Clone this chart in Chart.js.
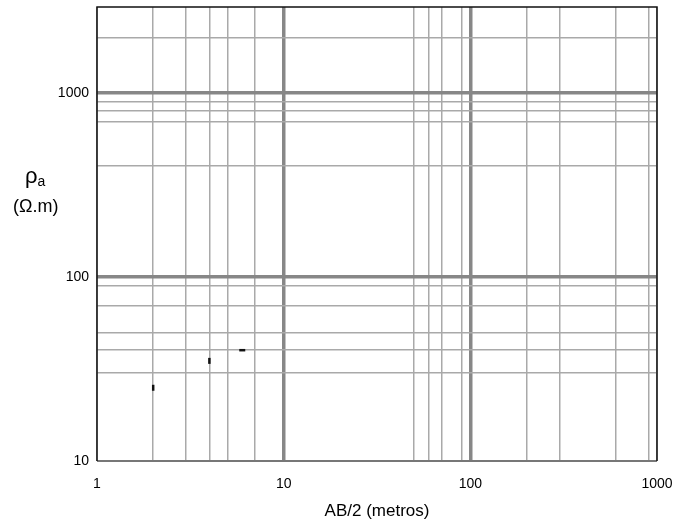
<!DOCTYPE html>
<html>
<head>
<meta charset="utf-8">
<script src="https://cdn.jsdelivr.net/npm/chart.js@4.4.1/dist/chart.umd.min.js"></script>
<style>
  html, body { margin: 0; padding: 0; background: #fff; }
  #wrap { position: relative; width: 677px; height: 524px; }
  .lbl { position: absolute; font-family: "Liberation Sans", Arial, sans-serif; color: #000; line-height: 1; white-space: nowrap; }
  #rhoLbl { left: 25px; top: 165px; font-size: 22px; }
  #rhoLbl sub { font-size: 14px; vertical-align: -3px; }
  #unitLbl { left: 13px; top: 197px; font-size: 18px; }
</style>
</head>
<body>
<div id="wrap">
  <canvas id="chart" width="677" height="524"></canvas>
  <div class="lbl" id="rhoLbl">ρ<sub>a</sub></div>
  <div class="lbl" id="unitLbl">(Ω.m)</div>
</div>
<script>
// grid values (irregular, as in the reference sheet)
const xGrid = [1, 2, 3, 4, 5, 7, 10, 50, 60, 70, 90, 100, 200, 300, 600, 900, 1000];
const yGrid = [10, 30, 40, 50, 70, 90, 100, 400, 700, 800, 900, 1000, 2000];
const xLabels = [1, 10, 100, 1000];
const yLabels = [10, 100, 1000];
const thickX = [10, 100];
const thickY = [100, 1000];

// measured points
const abHalf = [2, 4, 6];
const rhoA = [25, 35, 40];

const thinColor = '#a9a9a9';
const thickColor = '#878787';
const tickFont = { family: '"Liberation Sans", Arial, sans-serif', size: 14 };

// frame around the plot area
const framePlugin = {
    id: 'frame',
    afterDraw(chart) {
        const { ctx, chartArea: a } = chart;
        ctx.save();
        ctx.lineWidth = 2;
        ctx.strokeStyle = '#777';
        ctx.beginPath();
        ctx.moveTo(a.left, a.bottom);
        ctx.lineTo(a.right, a.bottom);
        ctx.stroke();
        ctx.lineWidth = 1.5;
        ctx.strokeStyle = '#111';
        ctx.beginPath();
        ctx.moveTo(a.left, a.bottom);
        ctx.lineTo(a.left, a.top);
        ctx.lineTo(a.right, a.top);
        ctx.lineTo(a.right, a.bottom);
        ctx.stroke();
        ctx.restore();
    }
};

const ctx = document.getElementById('chart').getContext('2d');
new Chart(ctx, {
    type: 'scatter',
    data: {
        datasets: [{
            data: abHalf.map((x, i) => ({ x: x, y: rhoA[i] })),
            pointStyle: 'line',
            rotation: [90, 90, 0],
            radius: 3,
            borderWidth: 2.5,
            borderColor: '#111',
            backgroundColor: '#111',
            showLine: false
        }]
    },
    options: {
        responsive: false,
        animation: false,
        devicePixelRatio: 1,
        layout: { padding: { top: 7, right: 20, left: 0, bottom: 0 } },
        plugins: {
            legend: { display: false },
            tooltip: { enabled: false }
        },
        scales: {
            x: {
                type: 'logarithmic',
                min: 1,
                max: 1000,
                afterBuildTicks: scale => { scale.ticks = xGrid.map(v => ({ value: v })); },
                afterFit: scale => {
                    scale.height = 63;
                    scale.paddingLeft = 0;
                    scale.paddingRight = 0;
                },
                ticks: {
                    autoSkip: false,
                    maxRotation: 0,
                    padding: 15,
                    color: '#000',
                    font: tickFont,
                    callback: v => xLabels.includes(v) ? String(v) : ''
                },
                grid: {
                    drawTicks: false,
                    color: c => thickX.includes(c.tick && c.tick.value) ? thickColor : thinColor,
                    lineWidth: c => thickX.includes(c.tick && c.tick.value) ? 3.5 : 1.5
                },
                border: { display: false },
                title: {
                    display: true,
                    text: 'AB/2 (metros)',
                    color: '#000',
                    font: { family: '"Liberation Sans", Arial, sans-serif', size: 17 },
                    padding: { top: 0, bottom: 2 }
                }
            },
            y: {
                type: 'logarithmic',
                min: 10,
                max: 2930,
                afterBuildTicks: scale => { scale.ticks = yGrid.map(v => ({ value: v })); },
                afterFit: scale => {
                    scale.width = 97;
                    scale.paddingTop = 0;
                    scale.paddingBottom = 0;
                },
                ticks: {
                    autoSkip: false,
                    padding: 8,
                    color: '#000',
                    font: tickFont,
                    callback: v => yLabels.includes(v) ? String(v) : ''
                },
                grid: {
                    drawTicks: false,
                    color: c => thickY.includes(c.tick && c.tick.value) ? thickColor : thinColor,
                    lineWidth: c => thickY.includes(c.tick && c.tick.value) ? 3.5 : 1.5
                },
                border: { display: false }
            }
        }
    },
    plugins: [framePlugin]
});
</script>
</body>
</html>
